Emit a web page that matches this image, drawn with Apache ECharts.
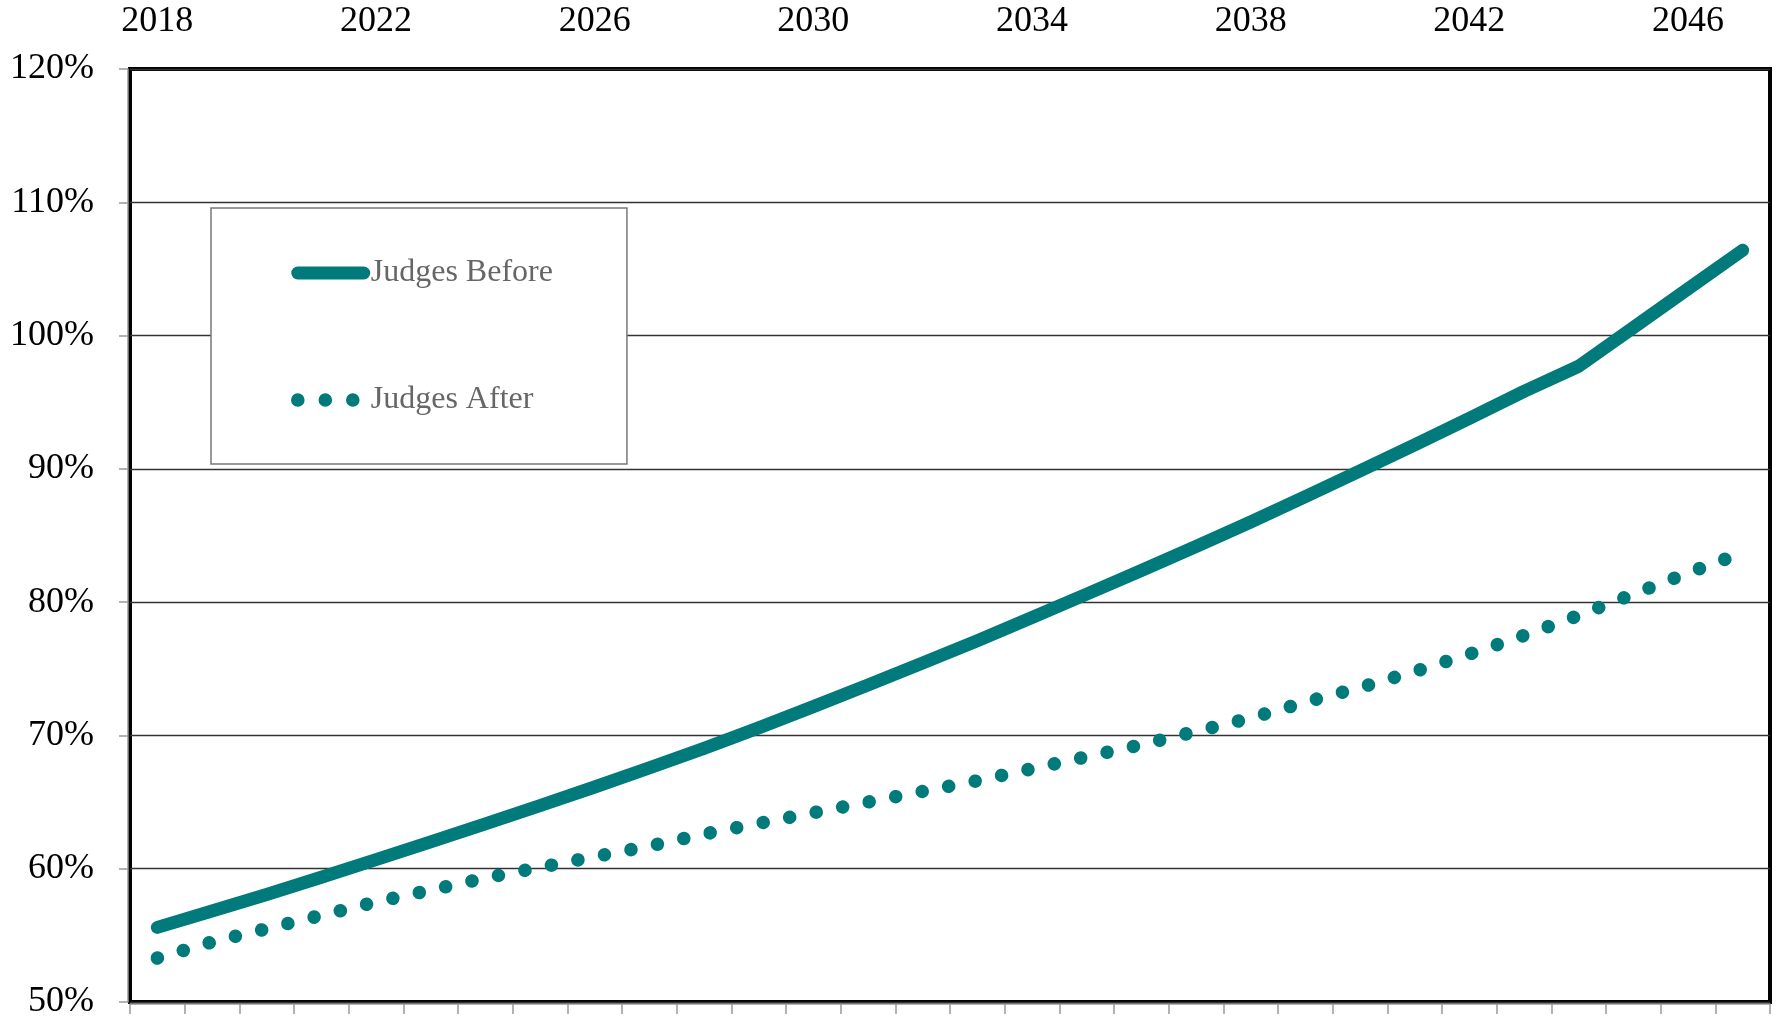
<!DOCTYPE html>
<html>
<head>
<meta charset="utf-8">
<script src="https://cdn.jsdelivr.net/npm/echarts@6/dist/echarts.min.js"></script>
<style>
html,body{margin:0;padding:0;background:#fff;}
#chart{width:1779px;height:1021px;}
</style>
</head>
<body>
<div id="chart"></div>
<script>
var years = ['2018','2019','2020','2021','2022','2023','2024','2025','2026','2027',
             '2028','2029','2030','2031','2032','2033','2034','2035','2036','2037',
             '2038','2039','2040','2041','2042','2043','2044','2045','2046','2047'];
var judgesBefore = [55.6, 56.82, 58.07, 59.36, 60.68, 62.01, 63.36, 64.73, 66.13, 67.56,
                    69.02, 70.57, 72.16, 73.78, 75.43, 77.11, 78.84, 80.6, 82.38, 84.18,
                    86.01, 87.91, 89.84, 91.8, 93.79, 95.81, 97.7, 100.6, 103.5, 106.4];
var judgesAfter = [53.3, 54.5, 55.5, 56.5, 57.5, 58.4, 59.3, 60.1, 60.9, 61.7,
                   62.6, 63.4, 64.2, 65.0, 65.8, 66.6, 67.5, 68.4, 69.3, 70.3,
                   71.3, 72.5, 73.6, 74.8, 76.1, 77.5, 79.0, 80.6, 82.2, 83.7];
var yMin = 50, yMax = 120, yStep = 10;

var teal = '#007a7a';
var font = 'Liberation Serif';
var chart = echarts.init(document.getElementById('chart'));
chart.setOption({
  animation: false,
  backgroundColor: '#fff',
  grid: {left: 130, right: 9, top: 69, bottom: 19, show: true,
         borderColor: '#000', borderWidth: 4, backgroundColor: 'transparent'},
  legend: {
    orient: 'vertical', left: 211, top: 208,
    padding: [47, 74, 46, 80],
    itemWidth: 66, itemHeight: 12, itemGap: 91,
    backgroundColor: '#fff', borderColor: '#777', borderWidth: 1.5,
    itemStyle: {opacity: 0},
    textStyle: {fontFamily: font, fontSize: 32, color: '#666', lineHeight: 36, padding: [0,0,0,2]},
    data: [
      {name: 'Judges Before', lineStyle: {width: 13, type: 'solid', cap: 'round', color: teal}},
      {name: 'Judges After', lineStyle: {width: 13.5, type: [0.1, 27.4], cap: 'round', color: teal}}
    ]
  },
  xAxis: [
    {type: 'category', data: years, position: 'top', boundaryGap: true,
     axisLine: {show: false}, axisTick: {show: false},
     axisLabel: {interval: 3, fontFamily: font, fontSize: 36, color: '#000', margin: 29},
     splitLine: {show: false}},
    {type: 'category', data: years, position: 'bottom', boundaryGap: true, offset: 2,
     axisLine: {show: true, lineStyle: {color: '#999', width: 1.5}},
     axisTick: {show: true, alignWithLabel: false, length: 10, lineStyle: {color: '#999', width: 1.5}},
     axisLabel: {show: false}, splitLine: {show: false}}
  ],
  yAxis: {
    type: 'value', min: yMin, max: yMax, interval: yStep, offset: 2,
    axisLine: {show: true, lineStyle: {color: '#999', width: 1.5}},
    axisTick: {show: true, length: 9, lineStyle: {color: '#999', width: 1.5}},
    axisLabel: {formatter: '{value}%', fontFamily: font, fontSize: 36, color: '#000', margin: 34},
    splitLine: {show: true, lineStyle: {color: '#333', width: 1.3}}
  },
  series: [
    {name: 'Judges Before', type: 'line', data: judgesBefore, xAxisIndex: 0,
     symbol: 'none', smooth: false,
     lineStyle: {color: teal, width: 13, cap: 'round', join: 'round'},
     itemStyle: {color: teal}},
    {name: 'Judges After', type: 'line', data: judgesAfter, xAxisIndex: 0,
     symbol: 'none', smooth: false,
     lineStyle: {color: teal, width: 13.5, type: [0.1, 26.9], cap: 'round', join: 'round'},
     itemStyle: {color: teal}}
  ]
});
</script>
</body>
</html>
